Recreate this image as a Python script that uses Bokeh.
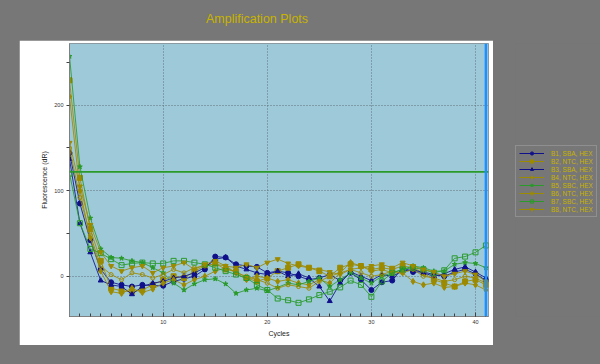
from bokeh.plotting import figure
from bokeh.models import Range1d, FixedTicker, Span, Div, Spacer, Legend, LegendItem
from bokeh.layouts import row, column
from bokeh.embed import file_html
from bokeh.resources import INLINE

# ---------------- data ----------------
cycles = list(range(1, 42))

b1_sba = [144, 85, 42, 8, -7, -10, -12, -10, -11, -11, -6, -3, 0, 8, 23, 22, 14, 12, 11, 4,
          6, 4, 0, -4, -2, 2, -5, 4, -4, -16, -7, -5, 10, 5, 5, 2, 0, 5, 8, 3, -5]
b2_ntc = [229, 115, 55, 18, -14, -17, -18, -16, -10, -4, 0, -2, 6, 12, 15, 8, 6, -2, -6, -2,
          6, 10, 14, 10, 6, 0, 10, 14, 12, 8, 10, 8, 12, 10, 4, -4, -8, -12, -6, -4, -10]
b3_sba = [137, 62, 28, -5, -10, -12, -21, -12, -8, -6, -2, 0, 4, 10, 20, 22, 12, 8, 4, 2,
          6, 0, 3, -2, -12, -29, -8, 5, 0, -5, 2, 0, 6, 8, 4, 0, 3, 8, 11, 5, -2]
b4_ntc = [210, 100, 45, 6, -18, -20, -14, -19, -15, -8, -4, -10, -4, 0, 6, 10, 4, -4, 0, -2,
          -6, -4, -8, -10, -4, -8, 4, 16, 12, 6, 8, 4, 4, -6, -10, -8, -13, -12, -8, -10, -16]
b5_sbc = [257, 128, 68, 32, 22, 21, 18, 16, 10, 4, -8, -16, -9, -4, -3, -9, -20, -16, -14, -17,
          -13, -8, -10, -6, -2, -12, -4, 4, -2, -8, 0, 4, 8, 12, 10, 6, 6, 14, 16, 15, 10]
b6_ntc = [150, 92, 48, 12, 2, -4, 4, 2, -2, 2, 8, 4, 10, 12, 14, 12, 4, 0, -4, -8,
          -14, -10, -12, -14, -6, 0, 4, 8, 4, 0, 2, 6, 4, 8, 0, -2, -6, -4, 0, -2, -8]
b7_sbc = [120, 62, 32, 27, 20, 13, 15, 16, 15, 15, 18, 18, 16, 14, 10, 6, 2, -2, -10, -16,
          -26, -28, -31, -27, -22, -18, -13, -5, -10, -24, -6, 4, 8, 10, 8, 4, 7, 21, 23, 28, 36]
b8_ntc = [156, 105, 60, 28, 12, 6, 10, 12, 4, 10, 12, 16, 8, 14, 18, 12, 10, 14, 10, 16,
          20, 15, 12, 10, 8, 5, 2, 8, 10, 12, 14, 10, 16, 12, 8, 5, 0, 3, 6, 2, -6]

series_names = ["B1, SBA, HEX", "B2, NTC, HEX", "B3, SBA, HEX", "B4, NTC, HEX",
                "B5, SBC, HEX", "B6, NTC, HEX", "B7, SBC, HEX", "B8, NTC, HEX"]
series_values = [b1_sba, b2_ntc, b3_sba, b4_ntc, b5_sbc, b6_ntc, b7_sbc, b8_ntc]
threshold = 122
x_ticks = [10, 20, 30, 40]
y_ticks = [0, 100, 200]
y_minor = [50, 150, 250]

# ---------------- styles ----------------
NAVY = "#10108a"
OLIVE = "#9c8a00"
GREEN = "#2a9a2a"
GRAY = "#777777"
styles = [
    (NAVY, "circle", True, 5),
    (OLIVE, "square", True, 5),
    (NAVY, "triangle", True, 5),
    (OLIVE, "diamond", True, 6),
    (GREEN, "star", True, 5),
    (OLIVE, "circle", False, 4),
    (GREEN, "square", False, 5),
    (OLIVE, "inverted_triangle", True, 5),
]

FONT = "Liberation Sans"

p = figure(width=474, height=305, output_backend="svg", toolbar_location=None,
           x_range=Range1d(1, 41.25), y_range=Range1d(-47, 272),
           min_border_left=50, min_border_right=5, min_border_top=3, min_border_bottom=29,
           background_fill_color="#9dc9d9", border_fill_color="white",
           outline_line_color="#8a9aa0", margin=0)

for vals, (col, mk, filled, sz) in zip(series_values, styles):
    p.line(cycles, vals, line_color=col, line_width=1, line_alpha=0.85)
    p.scatter(cycles, vals, marker=mk, size=sz, line_color=col,
              fill_color=col if filled else None, line_width=1)

p.add_layout(Span(location=threshold, dimension="width", line_color=GREEN, line_width=1.6))
p.add_layout(Span(location=41, dimension="height", line_color="#1e8fff", line_width=2.5))

p.xaxis.ticker = FixedTicker(ticks=x_ticks, minor_ticks=cycles)
p.yaxis.ticker = FixedTicker(ticks=y_ticks, minor_ticks=y_minor)
p.xaxis.axis_label = "Cycles"
p.yaxis.axis_label = "Fluorescence (dR)"
for ax in (p.xaxis, p.yaxis):
    ax.axis_line_color = "#808080"
    ax.major_tick_line_color = "#404040"
    ax.minor_tick_line_color = "#404040"
    ax.major_label_text_font = FONT
    ax.major_label_text_font_size = "5.5px"
    ax.major_label_text_color = "#333333"
    ax.axis_label_text_font = FONT
    ax.axis_label_text_font_size = "7px"
    ax.axis_label_text_font_style = "normal"
    ax.axis_label_text_color = "#222222"
p.xaxis.major_tick_in = 4
p.xaxis.major_tick_out = 0
p.xaxis.minor_tick_in = 3
p.xaxis.minor_tick_out = 0
p.xaxis.major_label_standoff = 3
p.xaxis.axis_label_standoff = 3
p.yaxis.major_tick_in = 0
p.yaxis.major_tick_out = 3
p.yaxis.minor_tick_in = 0
p.yaxis.minor_tick_out = 3
p.yaxis.major_label_standoff = 3
p.yaxis.axis_label_standoff = 3
p.grid.grid_line_color = "#5f6f78"
p.grid.grid_line_dash = "1 2"
p.grid.grid_line_width = 1
p.xgrid.ticker = FixedTicker(ticks=x_ticks)
p.ygrid.ticker = FixedTicker(ticks=y_ticks)

# ---------------- legend figure ----------------
lf = figure(width=85, height=305, output_backend="svg", toolbar_location=None,
            x_range=Range1d(0, 1), y_range=Range1d(0, 1), min_border=0, margin=0,
            background_fill_color=GRAY, border_fill_color=GRAY, outline_line_color=None)
lf.axis.visible = False
lf.grid.visible = False
items = []
for name, (col, mk, filled, sz) in zip(series_names, styles):
    lr = lf.line([5, 6], [5, 6], line_color=col, line_width=1)
    sr = lf.scatter([5], [5], marker=mk, size=sz, line_color=col,
                    fill_color=col if filled else None)
    items.append(LegendItem(label=name, renderers=[lr, sr]))
legend = Legend(items=items, location=(0, 99), background_fill_color=GRAY,
                background_fill_alpha=1, border_line_color="#a8a8a8", border_line_width=1,
                label_text_color="#c8b400", label_text_font=FONT, label_text_font_size="6.5px",
                label_height=8, glyph_height=8, glyph_width=25, label_standoff=7,
                padding=3, spacing=0, margin=0)
lf.add_layout(legend)

title = Div(text='<div style="padding-top:3px">Amplification Plots</div>', width=498, height=32,
            margin=0,
            styles={"color": "#c8b400", "font-size": "12.5px", "font-family": "'Liberation Sans', Arial, sans-serif",
                    "text-align": "center"})

layout = column(title,
                row(Spacer(width=11, height=305, margin=0), p,
                    Spacer(width=22, height=305, margin=0), lf, margin=0),
                margin=0)

html = file_html(layout, INLINE)
html = html.replace("</head>", "<style>html,body{background:#777777;margin:0;} body{margin:8px 0 0 8px;}</style></head>", 1)
open("out.html", "w").write(html)
